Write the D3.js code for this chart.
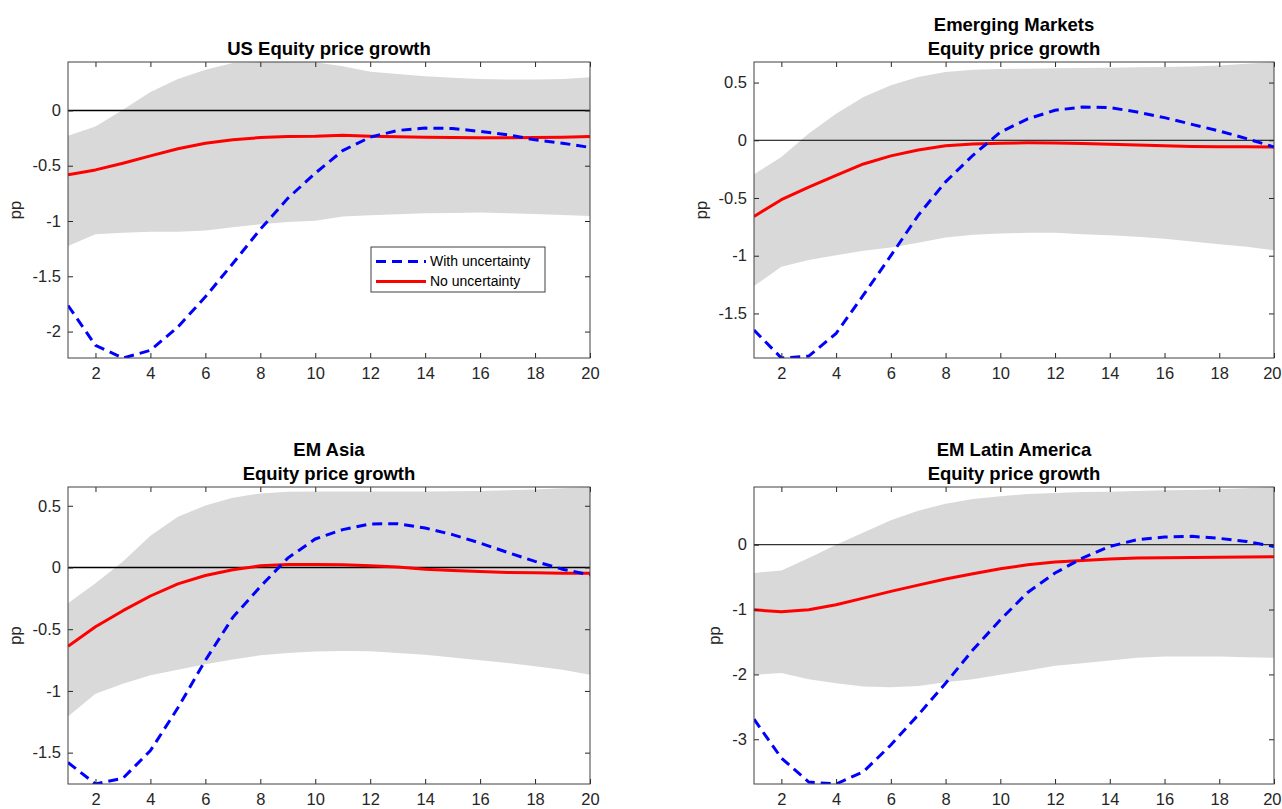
<!DOCTYPE html>
<html>
<head>
<meta charset="utf-8">
<script src="https://cdn.jsdelivr.net/npm/d3@7"></script>
<style>
  body { margin: 0; background: #fff; }
  svg { display: block; font-family: "Liberation Sans", Arial, sans-serif; }
  .tick text { fill: #262626; font-size: 16.5px; font-family: "Liberation Sans", Arial, sans-serif; }
  .tick line { stroke: #262626; }
</style>
</head>
<body>
<div id="chart"></div>
<script>
// horizon (quarters after the shock)
const horizon = [1, 2, 3, 4, 5, 6, 7, 8, 9, 10, 11, 12, 13, 14, 15, 16, 17, 18, 19, 20];
const xTicks = [2, 4, 6, 8, 10, 12, 14, 16, 18, 20];

// US
const usBandHi  = [-0.23, -0.145, 0.006, 0.166, 0.284, 0.369, 0.43, 0.437, 0.438, 0.436, 0.40, 0.35, 0.33, 0.31, 0.295, 0.285, 0.28, 0.28, 0.285, 0.30];
const usBandLo  = [-1.227, -1.12, -1.106, -1.097, -1.097, -1.085, -1.057, -1.03, -1.01, -0.997, -0.96, -0.949, -0.94, -0.93, -0.927, -0.924, -0.93, -0.937, -0.946, -0.955];
const usNoUnc   = [-0.583, -0.538, -0.477, -0.411, -0.347, -0.296, -0.266, -0.245, -0.236, -0.233, -0.224, -0.233, -0.239, -0.242, -0.245, -0.248, -0.248, -0.245, -0.242, -0.236];
const usWithUnc = [-1.764, -2.124, -2.239, -2.17, -1.958, -1.686, -1.384, -1.075, -0.795, -0.568, -0.363, -0.242, -0.181, -0.16, -0.163, -0.19, -0.22, -0.266, -0.296, -0.335];
const usTicks   = [-2, -1.5, -1, -0.5, 0];

// Emerging markets
const emBandHi  = [-0.294, -0.144, 0.058, 0.23, 0.375, 0.476, 0.548, 0.591, 0.611, 0.617, 0.62, 0.623, 0.626, 0.629, 0.632, 0.635, 0.64, 0.648, 0.662, 0.678];
const emBandLo  = [-1.263, -1.096, -1.038, -0.995, -0.958, -0.929, -0.888, -0.842, -0.819, -0.808, -0.802, -0.802, -0.813, -0.822, -0.836, -0.854, -0.877, -0.9, -0.923, -0.952];
const emNoUnc   = [-0.66, -0.515, -0.405, -0.305, -0.205, -0.135, -0.085, -0.048, -0.032, -0.025, -0.022, -0.023, -0.027, -0.035, -0.042, -0.048, -0.053, -0.056, -0.057, -0.058];
const emWithUnc = [-1.644, -1.886, -1.87, -1.673, -1.34, -1.0, -0.65, -0.36, -0.13, 0.07, 0.185, 0.26, 0.288, 0.283, 0.245, 0.196, 0.138, 0.081, 0.014, -0.058];
const emTicks   = [-1.5, -1, -0.5, 0, 0.5];

// EM Asia
const asiaBandHi  = [-0.29, -0.128, 0.049, 0.258, 0.41, 0.502, 0.564, 0.6, 0.613, 0.616, 0.616, 0.616, 0.616, 0.616, 0.617, 0.62, 0.625, 0.632, 0.642, 0.652];
const asiaBandLo  = [-1.208, -1.023, -0.942, -0.874, -0.828, -0.784, -0.746, -0.711, -0.692, -0.681, -0.676, -0.678, -0.692, -0.706, -0.73, -0.752, -0.773, -0.8, -0.828, -0.868];
const asiaNoUnc   = [-0.638, -0.48, -0.35, -0.231, -0.133, -0.065, -0.019, 0.014, 0.024, 0.024, 0.022, 0.014, 0.003, -0.014, -0.024, -0.033, -0.041, -0.043, -0.046, -0.046];
const asiaWithUnc = [-1.58, -1.754, -1.707, -1.484, -1.137, -0.752, -0.404, -0.155, 0.076, 0.231, 0.307, 0.353, 0.355, 0.32, 0.266, 0.198, 0.122, 0.049, -0.014, -0.06];
const asiaTicks   = [-1.5, -1, -0.5, 0, 0.5];

// EM Latin America
const latamBandHi  = [-0.437, -0.396, -0.206, 0.0, 0.19, 0.376, 0.525, 0.633, 0.705, 0.746, 0.782, 0.798, 0.813, 0.818, 0.828, 0.839, 0.845, 0.856, 0.872, 0.89];
const latamBandLo  = [-2.007, -1.98, -2.075, -2.136, -2.187, -2.198, -2.177, -2.12, -2.074, -2.007, -1.94, -1.868, -1.827, -1.786, -1.745, -1.724, -1.724, -1.724, -1.734, -1.745];
const latamNoUnc   = [-1.004, -1.034, -1.004, -0.926, -0.823, -0.72, -0.623, -0.53, -0.448, -0.37, -0.309, -0.268, -0.242, -0.221, -0.206, -0.2, -0.196, -0.192, -0.188, -0.185];
const latamWithUnc = [-2.69, -3.29, -3.66, -3.69, -3.5, -3.088, -2.625, -2.136, -1.621, -1.158, -0.736, -0.437, -0.206, -0.026, 0.077, 0.118, 0.129, 0.098, 0.051, -0.026];
const latamTicks   = [-3, -2, -1, 0];

const legendLabels = ["With uncertainty", "No uncertainty"];

const panels = [
  {title: ["US Equity price growth"], hi: usBandHi, lo: usBandLo, noUnc: usNoUnc, withUnc: usWithUnc, yTicks: usTicks,
   box: [68, 62, 590, 358], zeroW: 1.5, legend: true},
  {title: ["Emerging Markets", "Equity price growth"], hi: emBandHi, lo: emBandLo, noUnc: emNoUnc, withUnc: emWithUnc, yTicks: emTicks,
   box: [754, 62, 1274, 358], zeroW: 1},
  {title: ["EM Asia", "Equity price growth"], hi: asiaBandHi, lo: asiaBandLo, noUnc: asiaNoUnc, withUnc: asiaWithUnc, yTicks: asiaTicks,
   box: [68, 487, 590, 784], zeroW: 1.3},
  {title: ["EM Latin America", "Equity price growth"], hi: latamBandHi, lo: latamBandLo, noUnc: latamNoUnc, withUnc: latamWithUnc, yTicks: latamTicks,
   box: [754, 487, 1274, 784], zeroW: 1}
];

const W = 1282, H = 809;
const svg = d3.select("#chart").append("svg")
  .attr("width", W).attr("height", H)
  .attr("viewBox", `0 0 ${W} ${H}`);

panels.forEach((p, i) => {
  const [x0, y0, x1, y1] = p.box;

  // tight limits like matlab axis tight
  const allVals = [].concat(p.hi, p.lo, p.noUnc, p.withUnc);
  const x = d3.scaleLinear().domain(d3.extent(horizon)).range([x0, x1]);
  const y = d3.scaleLinear().domain(d3.extent(allVals)).range([y1, y0]);

  const rows = horizon.map((h, k) => ({h: h, hi: p.hi[k], lo: p.lo[k], a: p.withUnc[k], b: p.noUnc[k]}));

  const g = svg.append("g").attr("class", "panel");

  g.append("clipPath").attr("id", "clip" + i)
    .append("rect").attr("x", x0).attr("y", y0).attr("width", x1 - x0).attr("height", y1 - y0);

  const plot = g.append("g").attr("clip-path", `url(#clip${i})`);

  // confidence band
  plot.append("path")
    .datum(rows)
    .attr("fill", "#d9d9d9")
    .attr("d", d3.area().x(d => x(d.h)).y0(d => y(d.lo)).y1(d => y(d.hi)));

  // zero line
  plot.append("line")
    .attr("x1", x0).attr("x2", x1)
    .attr("y1", y(0)).attr("y2", y(0))
    .attr("stroke", "#000").attr("stroke-width", p.zeroW);

  // no uncertainty
  plot.append("path")
    .datum(rows)
    .attr("fill", "none").attr("stroke", "#ff0000").attr("stroke-width", 3)
    .attr("stroke-linejoin", "round")
    .attr("d", d3.line().x(d => x(d.h)).y(d => y(d.b)));

  // with uncertainty
  plot.append("path")
    .datum(rows)
    .attr("fill", "none").attr("stroke", "#0000ff").attr("stroke-width", 3)
    .attr("stroke-dasharray", "10,6")
    .attr("d", d3.line().x(d => x(d.h)).y(d => y(d.a)));

  // axes, ticks inside
  const fmt = d => String(d);
  const xb = g.append("g").attr("transform", `translate(0,${y1})`)
    .call(d3.axisBottom(x).tickValues(xTicks).tickSize(-5).tickFormat(fmt));
  xb.selectAll("text").attr("y", 15.5).attr("dy", "0.35em");
  // keep the last label inside the window
  xb.selectAll(".tick").each(function(d) {
    const t = d3.select(this).select("text");
    const w = t.node().getComputedTextLength();
    const over = x(d) + w / 2 - (W - 1);
    if (over > 0) t.attr("x", -over);
  });
  g.append("g").attr("transform", `translate(0,${y0})`)
    .call(d3.axisTop(x).tickValues(xTicks).tickSize(-5).tickFormat(""));
  const yl = g.append("g").attr("transform", `translate(${x0},0)`)
    .call(d3.axisLeft(y).tickValues(p.yTicks).tickSize(-5).tickPadding(7).tickFormat(fmt));
  g.append("g").attr("transform", `translate(${x1},0)`)
    .call(d3.axisRight(y).tickValues(p.yTicks).tickSize(-5).tickFormat(""));
  g.selectAll(".domain").remove();

  // box
  g.append("rect")
    .attr("x", x0).attr("y", y0).attr("width", x1 - x0).attr("height", y1 - y0)
    .attr("fill", "none").attr("stroke", "#404040").attr("stroke-width", 1);

  // y label, placed left of the widest tick label
  let minLeft = x0;
  yl.selectAll("text").each(function() {
    const bb = this.getBBox();
    minLeft = Math.min(minLeft, x0 + bb.x);
  });
  const lx = minLeft - 12;
  g.append("text")
    .attr("transform", `translate(${lx},${(y0 + y1) / 2}) rotate(-90)`)
    .attr("text-anchor", "middle")
    .attr("font-size", 16.5).attr("fill", "#262626")
    .text("pp");

  // title
  const nT = p.title.length;
  p.title.forEach((t, k) => {
    g.append("text")
      .attr("x", (x0 + x1) / 2)
      .attr("y", y0 - 7 - (nT - 1 - k) * 24)
      .attr("text-anchor", "middle")
      .attr("font-size", 18.5).attr("font-weight", "bold").attr("fill", "#000")
      .text(t);
  });

  // legend
  if (p.legend) {
    const lgX = x1 - 219, lgY = y0 + 185;
    const lg = g.append("g").attr("transform", `translate(${lgX},${lgY})`);
    lg.append("rect").attr("x", 0).attr("y", 0).attr("width", 174).attr("height", 45)
      .attr("fill", "#fff").attr("stroke", "#404040").attr("stroke-width", 1);
    const styles = [{c: "#0000ff", dash: "10,6"}, {c: "#ff0000", dash: null}];
    legendLabels.forEach((lab, k) => {
      const cy = 14.5 + k * 20;
      lg.append("line").attr("x1", 5).attr("x2", 55).attr("y1", cy).attr("y2", cy)
        .attr("stroke", styles[k].c).attr("stroke-width", 3)
        .attr("stroke-dasharray", styles[k].dash);
      lg.append("text").attr("x", 59).attr("y", cy).attr("dy", "0.35em")
        .attr("font-size", 14).attr("fill", "#000").text(lab);
    });
  }
});
</script>
</body>
</html>
